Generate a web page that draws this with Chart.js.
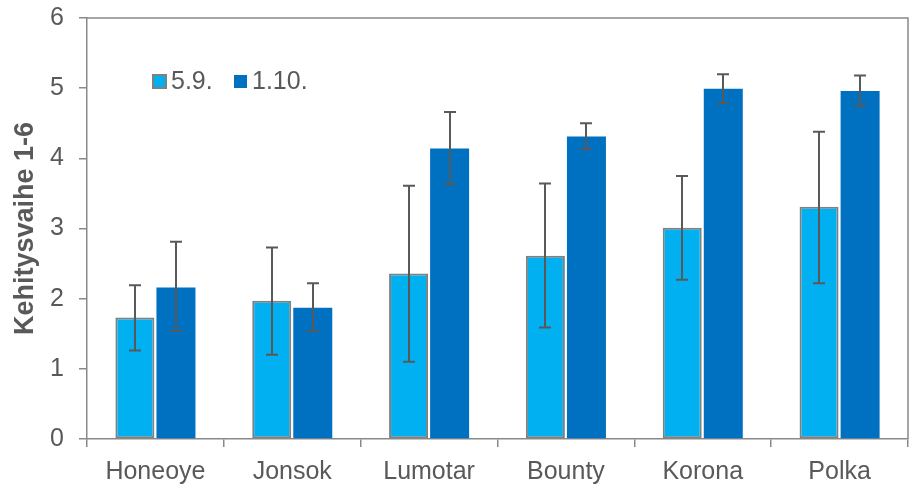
<!DOCTYPE html>
<html>
<head>
<meta charset="utf-8">
<script src="https://cdn.jsdelivr.net/npm/chart.js@4.4.1/dist/chart.umd.min.js"></script>
<style>
  html, body { margin: 0; padding: 0; background: #fff; }
  #wrap { width: 910px; height: 486px; }
</style>
</head>
<body>
<div id="wrap"><canvas id="myChart"></canvas></div>
<script>
// lajikkeet ja kehitysvaiheet kahtena päivänä
var categories = ["Honeoye", "Jonsok", "Lumotar", "Bounty", "Korona", "Polka"];
var seriesNames = ["5.9.", "1.10."];
var values59 = [1.73, 1.97, 2.36, 2.61, 3.01, 3.31];
var values110 = [2.16, 1.87, 4.14, 4.31, 4.99, 4.96];
// virhejanat (ala, ylä)
var errLow59 = [1.26, 1.20, 1.10, 1.59, 2.27, 2.22];
var errHigh59 = [2.19, 2.73, 3.61, 3.64, 3.75, 4.38];
var errLow110 = [1.54, 1.54, 3.63, 4.13, 4.79, 4.75];
var errHigh110 = [2.81, 2.22, 4.66, 4.50, 5.20, 5.18];
var yTicks = [0, 1, 2, 3, 4, 5, 6];

var gray = "#595959";
var axisGray = "#898989";
var fontFam = "'Liberation Sans', Arial, sans-serif";

// virhejanat + kehys + selite
var extras = {
  id: "extras",
  afterDatasetsDraw: function(chart){
    var c = chart.ctx;
    var y = chart.scales.y;
    var errs = [[errLow59, errHigh59], [errLow110, errHigh110]];
    c.save();
    c.strokeStyle = gray;
    c.lineWidth = 2;
    for (var d = 0; d < 2; d++){
      var meta = chart.getDatasetMeta(d);
      meta.data.forEach(function(bar, i){
        var x = Math.round(bar.x);
        var yl = y.getPixelForValue(errs[d][0][i]);
        var yh = y.getPixelForValue(errs[d][1][i]);
        c.beginPath();
        c.moveTo(x, yl); c.lineTo(x, yh);
        c.moveTo(x - 6, yl); c.lineTo(x + 6, yl);
        c.moveTo(x - 6, yh); c.lineTo(x + 6, yh);
        c.stroke();
      });
    }
    // plot area box (top and right)
    var a = chart.chartArea;
    c.strokeStyle = axisGray;
    c.lineWidth = 1.5;
    c.beginPath();
    c.moveTo(a.left, a.top); c.lineTo(a.right, a.top); c.lineTo(a.right, a.bottom);
    c.stroke();
    // selite
    c.font = "25px " + fontFam;
    c.textBaseline = "middle";
    c.fillStyle = "#00B0F0";
    c.fillRect(153, 75, 13, 13);
    c.strokeStyle = "#808080";
    c.lineWidth = 2;
    c.strokeRect(153, 75, 13, 13);
    c.fillStyle = gray;
    c.fillText(seriesNames[0], 171, 82);
    c.fillStyle = "#0070C0";
    c.fillRect(234, 75, 13, 13);
    c.fillStyle = gray;
    c.fillText(seriesNames[1], 252, 82);
    c.restore();
  }
};

var ctx = document.getElementById("myChart");
new Chart(ctx, {
  type: "bar",
  data: {
    labels: categories,
    datasets: [
      {
        label: seriesNames[0],
        data: values59,
        backgroundColor: "#00B0F0",
        borderColor: "#808080",
        borderWidth: 2,
        borderSkipped: false,
        categoryPercentage: 0.6,
        barPercentage: 0.95
      },
      {
        label: seriesNames[1],
        data: values110,
        backgroundColor: "#0070C0",
        borderWidth: 0,
        categoryPercentage: 0.6,
        barPercentage: 0.95
      }
    ]
  },
  options: {
    responsive: true,
    maintainAspectRatio: false,
    animation: false,
    layout: { padding: { top: 18, right: 2, left: 0, bottom: 0 } },
    plugins: {
      legend: { display: false },
      tooltip: { enabled: false }
    },
    scales: {
      x: {
        afterFit: function(axis){ axis.height = 47; },
        grid: { display: true, offset: true, drawOnChartArea: false, tickLength: 8, color: axisGray, lineWidth: 1.5 },
        border: { color: axisGray, width: 1.5 },
        ticks: { color: gray, font: { size: 25, family: fontFam }, padding: 10 }
      },
      y: {
        min: 0,
        max: 6,
        afterBuildTicks: function(axis){
          axis.ticks = yTicks.map(function(v){ return { value: v }; });
        },
        afterFit: function(axis){
          axis.width = 87;
          axis.paddingTop = 0;
          axis.paddingBottom = 0;
        },
        grid: { display: true, drawOnChartArea: false, tickLength: 8, color: axisGray, lineWidth: 1.5 },
        border: { color: axisGray, width: 1.5 },
        ticks: { color: gray, font: { size: 25, family: fontFam }, padding: 15 },
        title: {
          display: true,
          text: "Kehitysvaihe 1-6",
          color: gray,
          font: { size: 27, weight: "bold", family: fontFam },
          padding: { top: 9, bottom: 4 }
        }
      }
    }
  },
  plugins: [extras]
});
</script>
</body>
</html>
